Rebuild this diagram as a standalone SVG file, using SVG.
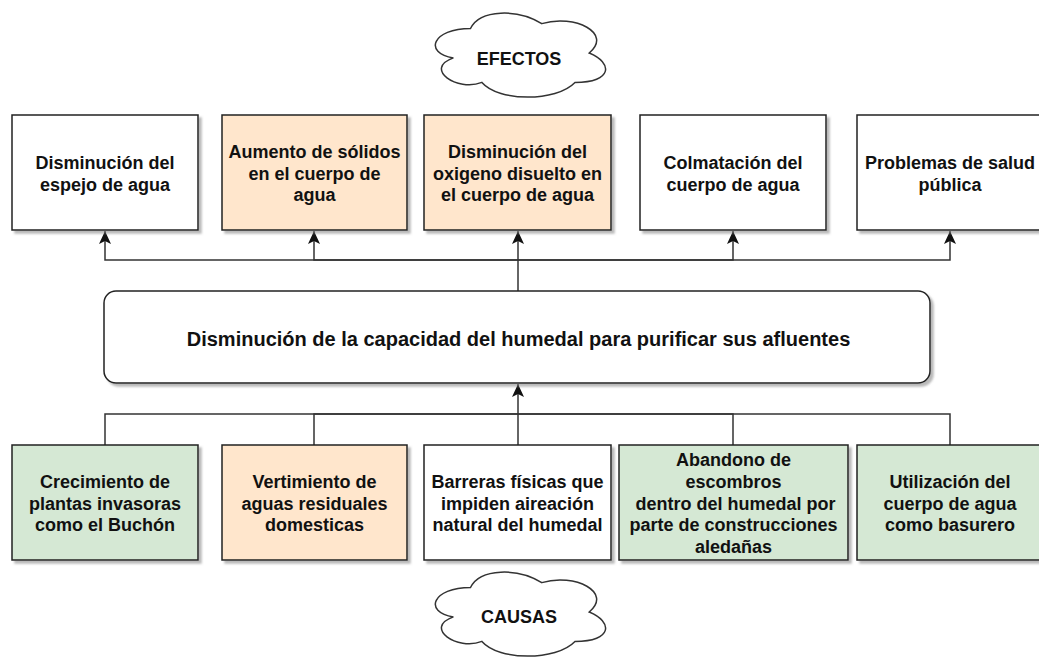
<svg xmlns="http://www.w3.org/2000/svg" width="1039" height="659" viewBox="0 0 1039 659">
<style>
  .box { stroke: #222; stroke-width: 1.5; filter: url(#sh); }
  .w { fill: #ffffff; }
  .o { fill: #ffe6cc; }
  .g { fill: #d5e8d4; }
  .t { font-family: "Liberation Sans", Arial, sans-serif; font-weight: bold; font-size: 18px; fill: #111; text-anchor: middle; }
  .main { font-size: 20px; }
  .cloud { fill: #ffffff; stroke: #333; stroke-width: 1.5; }
  .edge { fill: none; stroke: #333; stroke-width: 1.5; }
</style>
<defs>
  <filter id="sh" x="-5%" y="-5%" width="115%" height="120%">
    <feDropShadow dx="3" dy="3" stdDeviation="1" flood-color="#808080" flood-opacity="0.55"/>
  </filter>
  <marker id="arr" viewBox="0 0 13 12" refX="13" refY="6" markerWidth="13" markerHeight="12" markerUnits="userSpaceOnUse" orient="auto">
    <path d="M0,0 L13,6 L0,12 L3,6 Z" fill="#111"/>
  </marker>
</defs>
<rect width="1039" height="659" fill="#ffffff"/>

<g id="connectors">
  <path class="edge" d="M518,291 V231" marker-end="url(#arr)"/>
  <path class="edge" d="M518,260 H105 V231" marker-end="url(#arr)"/>
  <path class="edge" d="M518,260 H314 V231" marker-end="url(#arr)"/>
  <path class="edge" d="M518,260 H733 V231" marker-end="url(#arr)"/>
  <path class="edge" d="M518,260 H950 V231" marker-end="url(#arr)"/>
  <path class="edge" d="M518,445 V384" marker-end="url(#arr)"/>
  <path class="edge" d="M105,445 V414 H518"/>
  <path class="edge" d="M314,445 V414 H518"/>
  <path class="edge" d="M733,445 V414 H518"/>
  <path class="edge" d="M950,445 V414 H518"/>
</g>

<g id="cloud-efectos">
  <path class="cloud" d="M470.5,28.5 C432.5,28.5 423,53 453.4,57.9 C423,68.7 457.2,92.2 481.9,82.4 C499,102 556,102 575,82.4 C613,82.4 613,62.8 589.25,53 C613,33.4 575,13.8 541.75,23.6 C518,8.9 480,8.9 470.5,28.5 Z"/>
  <text class="t" x="519" y="65">EFECTOS</text>
</g>

<g id="e1">
  <rect class="box w" x="12" y="115" width="186" height="115"/>
  <text class="t" x="105" y="169">Disminución del</text>
  <text class="t" x="105" y="190.6">espejo de agua</text>
</g>
<g id="e2">
  <rect class="box o" x="222" y="115" width="185" height="115"/>
  <text class="t" x="314.5" y="158">Aumento de sólidos</text>
  <text class="t" x="314.5" y="179.6">en el cuerpo de</text>
  <text class="t" x="314.5" y="201.2">agua</text>
</g>
<g id="e3">
  <rect class="box o" x="424" y="115" width="187" height="115"/>
  <text class="t" x="517.5" y="158">Disminución del</text>
  <text class="t" x="517.5" y="179.6">oxigeno disuelto en</text>
  <text class="t" x="517.5" y="201.2">el cuerpo de agua</text>
</g>
<g id="e4">
  <rect class="box w" x="640" y="115" width="186" height="115"/>
  <text class="t" x="733" y="169">Colmatación del</text>
  <text class="t" x="733" y="190.6">cuerpo de agua</text>
</g>
<g id="e5">
  <rect class="box w" x="857" y="115" width="186" height="115"/>
  <text class="t" x="950" y="169">Problemas de salud</text>
  <text class="t" x="950" y="190.6">pública</text>
</g>

<g id="problema">
  <rect class="box w" x="104" y="291" width="826" height="92" rx="12" ry="12"/>
  <text class="t main" x="518.5" y="346">Disminución de la capacidad del humedal para purificar sus afluentes</text>
</g>

<g id="c1">
  <rect class="box g" x="12" y="445" width="186" height="115"/>
  <text class="t" x="105" y="488">Crecimiento de</text>
  <text class="t" x="105" y="509.6">plantas invasoras</text>
  <text class="t" x="105" y="531.2">como el Buchón</text>
</g>
<g id="c2">
  <rect class="box o" x="222" y="445" width="185" height="115"/>
  <text class="t" x="314.5" y="488">Vertimiento de</text>
  <text class="t" x="314.5" y="509.6">aguas residuales</text>
  <text class="t" x="314.5" y="531.2">domesticas</text>
</g>
<g id="c3">
  <rect class="box w" x="424" y="445" width="187" height="115"/>
  <text class="t" x="517.5" y="488">Barreras físicas que</text>
  <text class="t" x="517.5" y="509.6">impiden aireación</text>
  <text class="t" x="517.5" y="531.2">natural del humedal</text>
</g>
<g id="c4">
  <rect class="box g" x="619" y="445" width="229" height="115"/>
  <text class="t" x="733.5" y="466.4">Abandono de</text>
  <text class="t" x="733.5" y="488">escombros</text>
  <text class="t" x="735.5" y="509.6">dentro del humedal por</text>
  <text class="t" x="733.5" y="531.2">parte de construcciones</text>
  <text class="t" x="733.5" y="552.8">aledañas</text>
</g>
<g id="c5">
  <rect class="box g" x="857" y="445" width="186" height="115"/>
  <text class="t" x="950" y="488">Utilización del</text>
  <text class="t" x="950" y="509.6">cuerpo de agua</text>
  <text class="t" x="950" y="531.2">como basurero</text>
</g>

<g id="cloud-causas">
  <path class="cloud" d="M470.5,587.5 C432.5,587.5 423,612 453.4,616.9 C423,627.7 457.2,651.2 481.9,641.4 C499,661 556,661 575,641.4 C613,641.4 613,621.8 589.25,612 C613,592.4 575,572.8 541.75,582.6 C518,567.9 480,567.9 470.5,587.5 Z"/>
  <text class="t" x="519" y="623">CAUSAS</text>
</g>
</svg>
